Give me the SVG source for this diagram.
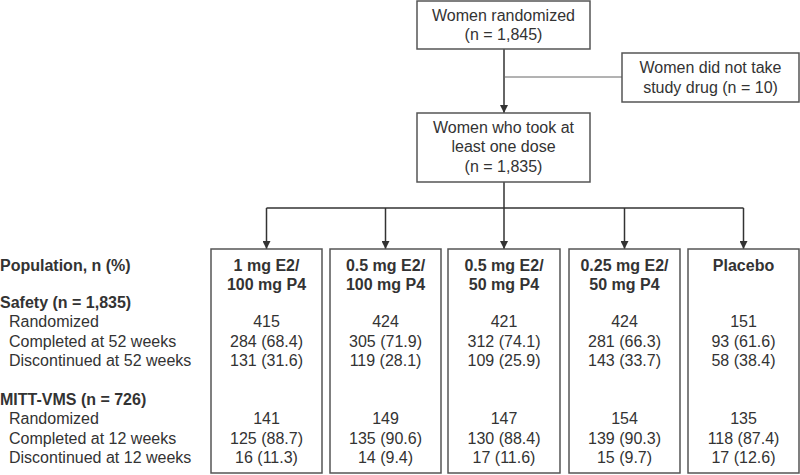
<svg xmlns="http://www.w3.org/2000/svg" width="800" height="475" viewBox="0 0 800 475">
<defs>
<style>
text{font-family:"Liberation Sans",Arial,sans-serif;font-size:16px;fill:#333}
.b{font-weight:bold}
.c{text-anchor:middle}
.box{fill:#fff;stroke:#555;stroke-width:1.5}
.ln{fill:none;stroke:#333;stroke-width:1.5}
.thin{fill:none;stroke:#666;stroke-width:1}
</style>
<marker id="ah" viewBox="0 0 10 10" refX="10" refY="5" markerWidth="8" markerHeight="8" markerUnits="userSpaceOnUse" orient="auto">
<path d="M0,0 L10,5 L0,10 Z" fill="#333"/>
</marker>
</defs>
<rect width="800" height="475" fill="#fff"/>
<g id="connectors">
<line class="ln" x1="504" y1="49" x2="504" y2="113" marker-end="url(#ah)"/>
<line class="thin" x1="504" y1="77" x2="622" y2="77"/>
<line class="ln" x1="504" y1="182" x2="504" y2="208"/>
<line class="ln" x1="266.5" y1="208" x2="743.5" y2="208"/>
<line class="ln" x1="266.5" y1="208" x2="266.5" y2="249" marker-end="url(#ah)"/>
<line class="ln" x1="385.5" y1="208" x2="385.5" y2="249" marker-end="url(#ah)"/>
<line class="ln" x1="504" y1="208" x2="504" y2="249" marker-end="url(#ah)"/>
<line class="ln" x1="624.5" y1="208" x2="624.5" y2="249" marker-end="url(#ah)"/>
<line class="ln" x1="743.5" y1="208" x2="743.5" y2="249" marker-end="url(#ah)"/>
</g>
<g id="randomized">
<rect class="box" x="417" y="1" width="173" height="48"/>
<text class="c" x="503.5" y="21">Women randomized</text>
<text class="c" x="503.5" y="40">(n = 1,845)</text>
</g>
<g id="excluded">
<rect class="box" x="622" y="53" width="177" height="49"/>
<text class="c" x="710.5" y="73">Women did not take</text>
<text class="c" x="710.5" y="93">study drug (n = 10)</text>
</g>
<g id="took-dose">
<rect class="box" x="417" y="113" width="173" height="69"/>
<text class="c" x="503.5" y="133">Women who took at</text>
<text class="c" x="503.5" y="152">least one dose</text>
<text class="c" x="503.5" y="172">(n = 1,835)</text>
</g>
<g id="labels">
<text class="b" x="0" y="271">Population, n (%)</text>
<text class="b" x="0" y="308">Safety (n = 1,835)</text>
<text x="9" y="327">Randomized</text>
<text x="9" y="347">Completed at 52 weeks</text>
<text x="9" y="366">Discontinued at 52 weeks</text>
<text class="b" x="0" y="405">MITT-VMS (n = 726)</text>
<text x="9" y="424">Randomized</text>
<text x="9" y="444">Completed at 12 weeks</text>
<text x="9" y="463">Discontinued at 12 weeks</text>
</g>
<g id="arm1">
<rect class="box" x="211" y="249" width="111" height="224"/>
<text class="c b" x="266.5" y="271">1 mg E2/</text>
<text class="c b" x="266.5" y="290">100 mg P4</text>
<text class="c" x="266.5" y="327">415</text>
<text class="c" x="266.5" y="347">284 (68.4)</text>
<text class="c" x="266.5" y="366">131 (31.6)</text>
<text class="c" x="266.5" y="424">141</text>
<text class="c" x="266.5" y="444">125 (88.7)</text>
<text class="c" x="266.5" y="463">16 (11.3)</text>
</g>
<g id="arm2">
<rect class="box" x="330" y="249" width="111" height="224"/>
<text class="c b" x="385.5" y="271">0.5 mg E2/</text>
<text class="c b" x="385.5" y="290">100 mg P4</text>
<text class="c" x="385.5" y="327">424</text>
<text class="c" x="385.5" y="347">305 (71.9)</text>
<text class="c" x="385.5" y="366">119 (28.1)</text>
<text class="c" x="385.5" y="424">149</text>
<text class="c" x="385.5" y="444">135 (90.6)</text>
<text class="c" x="385.5" y="463">14 (9.4)</text>
</g>
<g id="arm3">
<rect class="box" x="448" y="249" width="112" height="224"/>
<text class="c b" x="504" y="271">0.5 mg E2/</text>
<text class="c b" x="504" y="290">50 mg P4</text>
<text class="c" x="504" y="327">421</text>
<text class="c" x="504" y="347">312 (74.1)</text>
<text class="c" x="504" y="366">109 (25.9)</text>
<text class="c" x="504" y="424">147</text>
<text class="c" x="504" y="444">130 (88.4)</text>
<text class="c" x="504" y="463">17 (11.6)</text>
</g>
<g id="arm4">
<rect class="box" x="569" y="249" width="111" height="224"/>
<text class="c b" x="624.5" y="271">0.25 mg E2/</text>
<text class="c b" x="624.5" y="290">50 mg P4</text>
<text class="c" x="624.5" y="327">424</text>
<text class="c" x="624.5" y="347">281 (66.3)</text>
<text class="c" x="624.5" y="366">143 (33.7)</text>
<text class="c" x="624.5" y="424">154</text>
<text class="c" x="624.5" y="444">139 (90.3)</text>
<text class="c" x="624.5" y="463">15 (9.7)</text>
</g>
<g id="placebo">
<rect class="box" x="688" y="249" width="111" height="224"/>
<text class="c b" x="743.5" y="271">Placebo</text>
<text class="c" x="743.5" y="327">151</text>
<text class="c" x="743.5" y="347">93 (61.6)</text>
<text class="c" x="743.5" y="366">58 (38.4)</text>
<text class="c" x="743.5" y="424">135</text>
<text class="c" x="743.5" y="444">118 (87.4)</text>
<text class="c" x="743.5" y="463">17 (12.6)</text>
</g>
</svg>
